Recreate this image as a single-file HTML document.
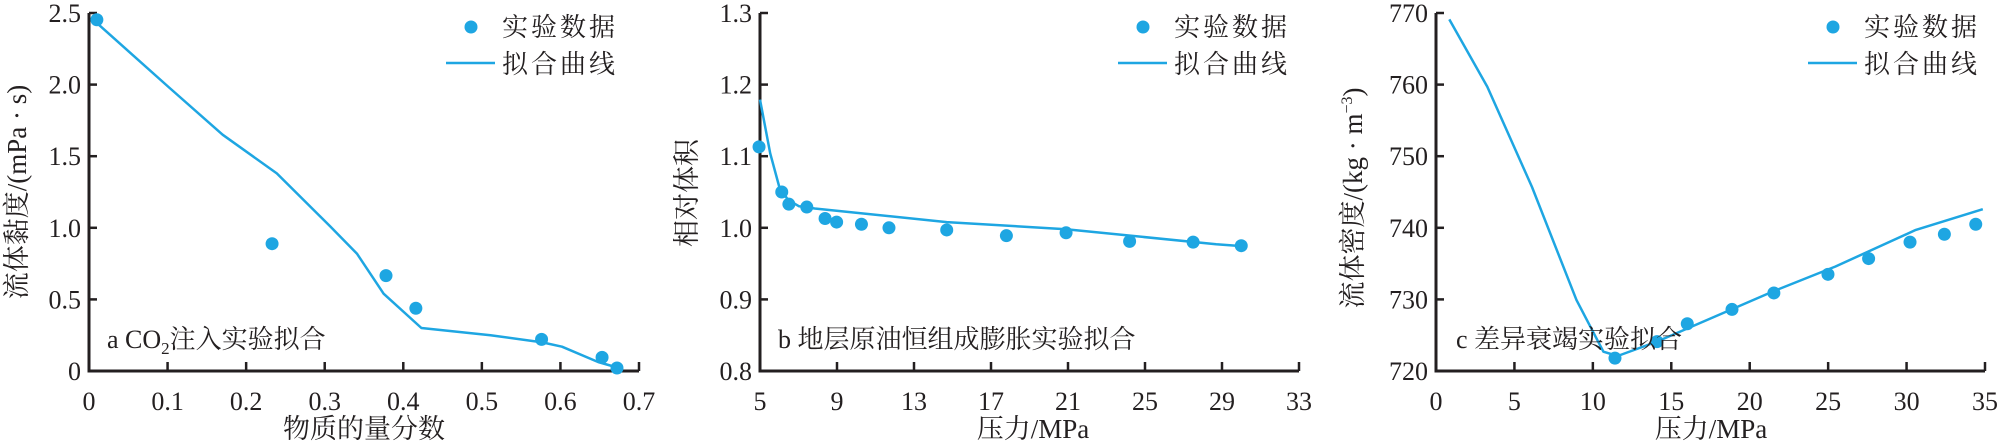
<!DOCTYPE html>
<html><head><meta charset="utf-8"><style>
html,body{margin:0;padding:0;background:#fff;}
svg{display:block;}
text{font-family:"Liberation Serif","Noto Serif CJK SC","Noto Sans CJK SC",serif;fill:#231f20;}
</style></head><body>
<svg id="chart" width="2000" height="446" viewBox="0 0 2000 446" xmlns="http://www.w3.org/2000/svg"></svg>
<script>
// Panel a
const aTicksX=[0,0.1,0.2,0.3,0.4,0.5,0.6,0.7];
const aTickLabelsX=["0","0.1","0.2","0.3","0.4","0.5","0.6","0.7"];
const aTicksY=[0,0.5,1.0,1.5,2.0,2.5];
const aTickLabelsY=["0","0.5","1.0","1.5","2.0","2.5"];
const aPtsX=[0.010,0.233,0.378,0.416,0.576,0.653,0.672];
const aPtsY=[2.453,0.889,0.666,0.438,0.221,0.095,0.021];
const aFitX=[0.006,0.102,0.170,0.239,0.307,0.341,0.375,0.423,0.511,0.577,0.602,0.648,0.670];
const aFitY=[2.45,1.98,1.65,1.38,1.01,0.82,0.54,0.30,0.25,0.20,0.17,0.063,0.028];
// Panel b
const bTicksX=[5,9,13,17,21,25,29,33];
const bTickLabelsX=["5","9","13","17","21","25","29","33"];
const bTicksY=[0.8,0.9,1.0,1.1,1.2,1.3];
const bTickLabelsY=["0.8","0.9","1.0","1.1","1.2","1.3"];
const bPtsX=[4.95,6.13,6.50,7.43,8.38,8.98,10.27,11.7,14.7,17.8,20.9,24.2,27.5,30.0];
const bPtsY=[1.113,1.050,1.033,1.029,1.013,1.008,1.005,1.000,0.997,0.989,0.993,0.981,0.980,0.975];
const bFitX=[5.0,5.53,6.0,6.46,7.03,7.84,14.7,20.9,28.7,30.2];
const bFitY=[1.179,1.104,1.057,1.039,1.030,1.027,1.008,0.998,0.977,0.974];
// Panel c
const cTicksX=[0,5,10,15,20,25,30,35];
const cTickLabelsX=["0","5","10","15","20","25","30","35"];
const cTicksY=[720,730,740,750,760,770];
const cTickLabelsY=["720","730","740","750","760","770"];
const cPtsX=[11.41,14.09,16.02,18.87,21.54,24.99,27.58,30.22,32.41,34.41];
const cPtsY=[721.8,724.1,726.6,728.6,730.9,733.5,735.7,738.0,739.1,740.5];
const cFitX=[0.85,3.27,6.12,8.96,10.67,11.58,14.09,21.48,25.47,30.59,34.86];
const cFitY=[769.1,759.7,745.7,729.9,722.7,722.1,724.1,731.1,734.6,739.7,742.6];

const NS="http://www.w3.org/2000/svg";
const svg=document.getElementById('chart');
const BLUE="#1ea6e2";
function mk(tag,attrs,parent){const e=document.createElementNS(NS,tag);for(const k in attrs)e.setAttribute(k,attrs[k]);(parent||svg).appendChild(e);return e;}

function panel(cfg){
  const g=mk('g',{});
  
  
  const sx=v=>cfg.x0+(v-cfg.xmin)/(cfg.xmax-cfg.xmin)*(cfg.x1-cfg.x0);
  const sy=v=>cfg.y0-(v-cfg.ymin)/(cfg.ymax-cfg.ymin)*(cfg.y0-cfg.y1);
  // axes
  const ax=mk('path',{d:`M${cfg.x0},${cfg.y1} L${cfg.x0},${cfg.y0} L${cfg.x1},${cfg.y0}`,fill:'none',stroke:'#231f20','stroke-width':3},g);
  
  
  cfg.tx.forEach((v,i)=>{
    const x=sx(v);
    const t=mk('line',{x1:x,x2:x,y1:cfg.y0,y2:cfg.y0-9,stroke:'#231f20','stroke-width':2.5},g);
    
    
    const l=mk('text',{x:x,y:cfg.y0+39,'text-anchor':'middle','font-size':26},g);
    l.textContent=cfg.txl[i];
    
    
  });
  cfg.ty.forEach((v,i)=>{
    const y=sy(v);
    const t=mk('line',{x1:cfg.x0,x2:cfg.x0+8,y1:y,y2:y,stroke:'#231f20','stroke-width':2.5},g);
    
    
    const l=mk('text',{x:cfg.x0-8,y:y+9,'text-anchor':'end','font-size':26},g);
    l.textContent=cfg.tyl[i];
    
    
  });
  // fit line
  let d='';cfg.fx.forEach((v,i)=>{d+=(i?'L':'M')+sx(v).toFixed(1)+','+sy(cfg.fy[i]).toFixed(1);});
  const fl=mk('path',{d:d,fill:'none',stroke:BLUE,'stroke-width':2.5,'stroke-linejoin':'round'},g);
  
  
  cfg.px.forEach((v,i)=>{
    const c=mk('circle',{cx:sx(v),cy:sy(cfg.py[i]),r:6.5,fill:BLUE},g);
    
    
  });
  // legend
  const lg=mk('g',{},g);
  
  
  const lx=cfg.legX;
  const m=mk('circle',{cx:lx+25,cy:27,r:6.5,fill:BLUE},lg);
  
  
  const t1=mk('text',{x:lx+56,y:36,'font-size':26,'letter-spacing':3},lg);
  t1.textContent='实验数据';
  
  
  const ll=mk('line',{x1:lx,x2:lx+49,y1:63,y2:63,stroke:BLUE,'stroke-width':2.5},lg);
  
  
  const t2=mk('text',{x:lx+56,y:73,'font-size':26,'letter-spacing':3},lg);
  t2.textContent='拟合曲线';
  
  
  // titles
  const xt=mk('text',{x:cfg.xtX,y:438,'text-anchor':'middle','font-size':27},g);
  xt.textContent=cfg.xtitle;
  
  
  const yt=mk('text',{x:0,y:0,'text-anchor':'middle','font-size':27,transform:`translate(${cfg.ytX},${cfg.ytY}) rotate(-90)`},g);
  yt.innerHTML=cfg.ytitle;
  
  
  const an=mk('text',{x:cfg.anX,y:348,'font-size':26},g);
  an.innerHTML=cfg.ann;
  
  
}

panel({id:'a',x0:89,x1:639,y0:371,y1:13,xmin:0,xmax:0.7,ymin:0,ymax:2.5,
  tx:aTicksX,txl:aTickLabelsX,ty:aTicksY,tyl:aTickLabelsY,px:aPtsX,py:aPtsY,fx:aFitX,fy:aFitY,
  legX:446,xtX:364,xtitle:'物质的量分数',ytX:26,ytY:192,ytitle:'流体黏度/(mPa · s)',
  anX:107,ann:'a CO<tspan font-size="17" dy="6">2</tspan><tspan dy="-6">注入实验拟合</tspan>'});
panel({id:'b',x0:760,x1:1299,y0:371,y1:13,xmin:5,xmax:33,ymin:0.8,ymax:1.3,
  tx:bTicksX,txl:bTickLabelsX,ty:bTicksY,tyl:bTickLabelsY,px:bPtsX,py:bPtsY,fx:bFitX,fy:bFitY,
  legX:1118,xtX:1033,xtitle:'压力/MPa',ytX:696,ytY:193,ytitle:'相对体积',
  anX:778,ann:'b 地层原油恒组成膨胀实验拟合'});
panel({id:'c',x0:1436,x1:1985,y0:371,y1:13,xmin:0,xmax:35,ymin:720,ymax:770,
  tx:cTicksX,txl:cTickLabelsX,ty:cTicksY,tyl:cTickLabelsY,px:cPtsX,py:cPtsY,fx:cFitX,fy:cFitY,
  legX:1808,xtX:1711,xtitle:'压力/MPa',ytX:1362,ytY:198,ytitle:'流体密度/(kg · m<tspan font-size="16" dy="-10">−3</tspan><tspan dy="10">)</tspan>',
  anX:1456,ann:'c 差异衰竭实验拟合'});
</script>
</body></html>
